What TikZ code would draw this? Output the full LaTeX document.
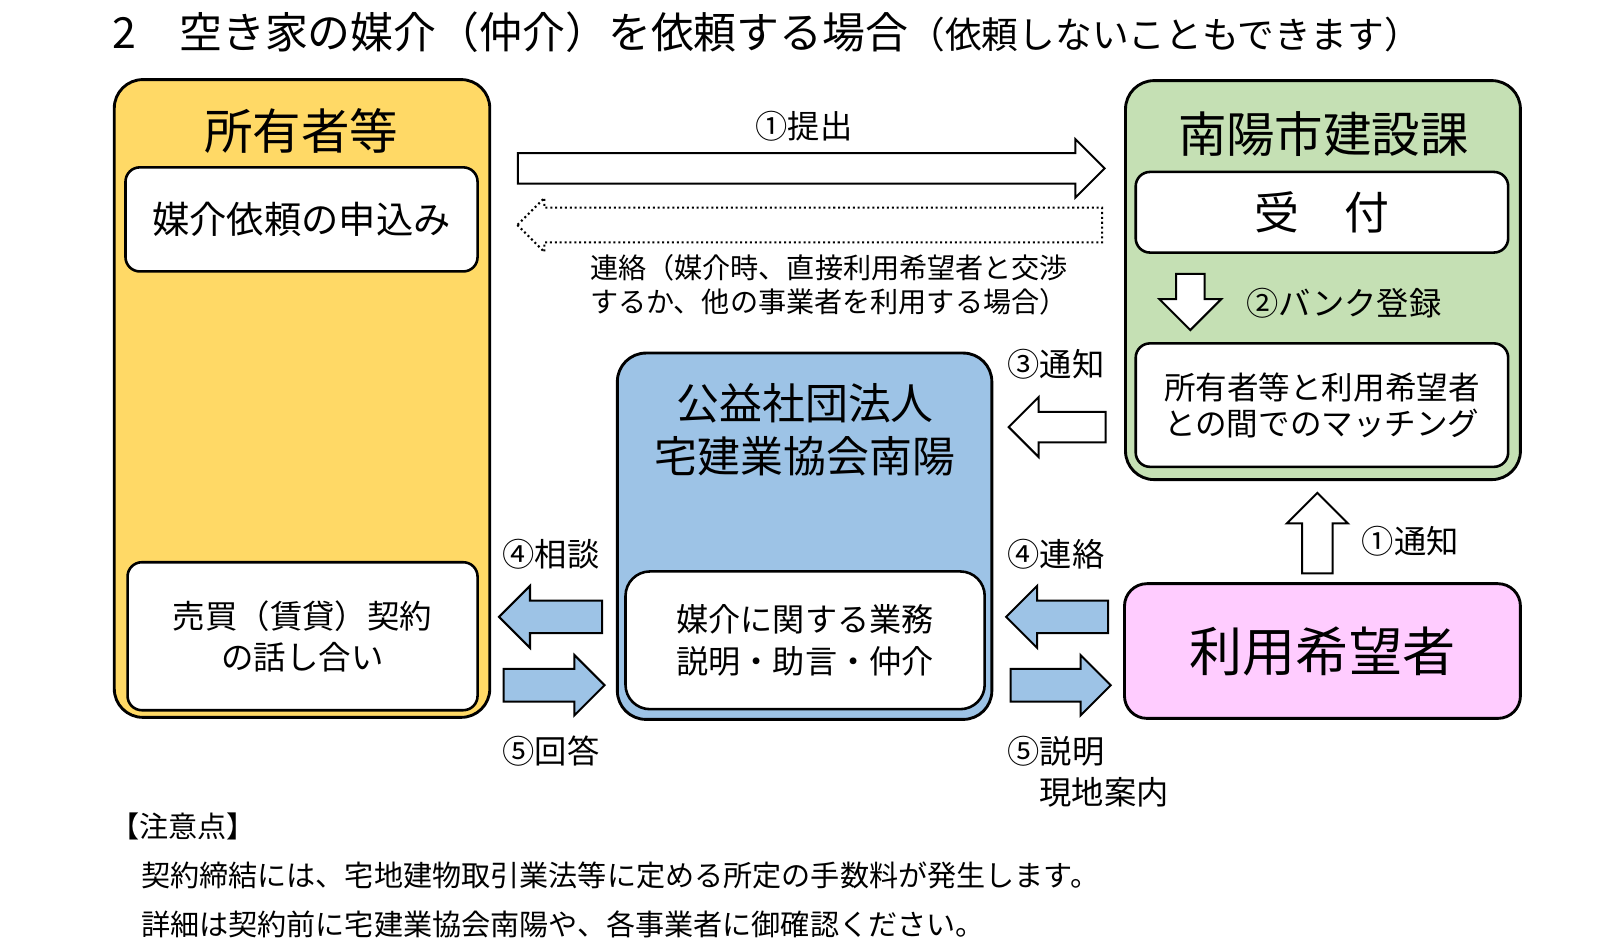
\documentclass[tikz,border=0pt]{standalone}
\usepackage{fontspec}
\setmainfont{Noto Sans CJK JP}
\usetikzlibrary{shapes.arrows}
\definecolor{ownerfill}{HTML}{FFD966}
\definecolor{cityfill}{HTML}{C5E0B4}
\definecolor{assocfill}{HTML}{9DC3E6}
\definecolor{userfill}{HTML}{FFCCFF}
\newcommand{\fsz}[2]{\fontsize{#1}{#2}\selectfont}
\tikzset{
  panel/.style={draw, line width=2pt, rounded corners=7mm, inner sep=0pt},
  card/.style={draw, fill=white, line width=1.8pt, rounded corners=3.5mm, align=center, inner sep=0pt},
  head/.style={inner sep=0pt, font=\fsz{33.8}{40}},
  tag/.style={inner sep=0pt, font=\fsz{22.5}{28.4}},
  note/.style={inner sep=0pt, anchor=west, font=\fsz{20.3}{24}},
  fatarrow/.style={single arrow, draw, line width=1.4pt, inner xsep=0pt, outer sep=0pt, single arrow tip angle=90},
  bluearrow/.style={fatarrow, fill=assocfill},
  whitearrow/.style={fatarrow, fill=white}
}

\begin{document}
\begin{tikzpicture}[x=0.25mm, y=-0.25mm]
  \path[use as bounding box] (0,0) rectangle (1568,932);

  \node[inner sep=0pt, anchor=west, font=\fsz{29.9}{36}] (title) at (110,32) {2　空き家の媒介（仲介）を依頼する場合{\fsz{25.6}{30}（依頼しないこともできます）}};

  % owner side
  \node[panel, fill=ownerfill, minimum width=92mm, minimum height=156.25mm] (owner) at (296,390.5) {};
  \node[head] (ownerhead) at (295,128) {所有者等};
  \node[card, minimum width=86.25mm, minimum height=25.5mm, font=\fsz{26}{32}] (apply) at (295.5,215) {媒介依頼の申込み};
  \node[card, minimum width=85.75mm, minimum height=36.25mm, font=\fsz{22.6}{28.4}] (deal) at (296.5,623.5) {売買（賃貸）契約\\の話し合い};

  % city office
  \node[panel, fill=cityfill, minimum width=96.75mm, minimum height=97.75mm] (city) at (1296.5,274.5) {};
  \node[head] (cityhead) at (1297,131) {南陽市建設課};
  \node[card, minimum width=91.25mm, minimum height=19.75mm, font=\fsz{31.3}{36}] (accept) at (1295.5,208) {受　付};
  \node[card, align=left, minimum width=91.25mm, minimum height=30.25mm, font=\fsz{22}{25}] (match) at (1295.5,397) {所有者等と利用希望者\\との間でのマッチング};

  % association
  \node[panel, fill=assocfill, minimum width=91.75mm, minimum height=89.75mm] (assoc) at (788.5,525.5) {};
  \node[inner sep=0pt, align=center, font=\fsz{29.9}{37}] (assochead) at (789,421) {公益社団法人\\宅建業協会南陽};
  \node[card, rounded corners=6mm, minimum width=88mm, minimum height=33.75mm, font=\fsz{22.4}{29}] (duty) at (789,627.5) {媒介に関する業務\\説明・助言・仲介};

  % user
  \node[panel, fill=userfill, rounded corners=5.5mm, minimum width=97mm, minimum height=33mm, font=\fsz{37}{44}] (user) at (1296,638) {利用希望者};

  % block arrows
  \node[whitearrow, minimum height=143.75mm, inner ysep=3.5mm, single arrow head extend=3.4mm] (submit) at (787.5,165) {};
  \node[whitearrow, dotted, rotate=180, minimum height=143.25mm, inner ysep=4mm, single arrow head extend=2.4mm] (contact) at (802,220.5) {};
  \node[whitearrow, rotate=-90, minimum height=13.75mm, inner ysep=3.25mm, single arrow head extend=4.1mm] (bank) at (1166.5,289) {};
  \node[whitearrow, rotate=180, minimum height=23.75mm, inner ysep=3.5mm, single arrow head extend=3.6mm] (notify) at (1043.5,418.5) {};
  \node[whitearrow, rotate=90, minimum height=19.75mm, inner ysep=3.5mm, single arrow head extend=3.75mm] (notifyup) at (1291,530) {};
  \node[bluearrow, rotate=180, minimum height=25.25mm, inner ysep=3.75mm, single arrow head extend=3.6mm] (consult) at (547.5,604.5) {};
  \node[bluearrow, minimum height=24.75mm, inner ysep=3.75mm, single arrow head extend=3.4mm] (reply) at (535,671.5) {};
  \node[bluearrow, rotate=180, minimum height=25mm, inner ysep=3.75mm, single arrow head extend=3.6mm] (liaise) at (1044,604.5) {};
  \node[bluearrow, minimum height=24.5mm, inner ysep=3.75mm, single arrow head extend=3.4mm] (explain) at (1031.5,671.5) {};

  % arrow labels
  \node[tag] (submitlbl) at (788,124) {①提出};
  \node[inner sep=0pt, anchor=west, align=left, font=\fsz{19.6}{24}] (contactlbl) at (578,279) {連絡（媒介時、直接利用希望者と交渉\\するか、他の事業者を利用する場合）};
  \node[tag] (banklbl) at (1317,297) {②バンク登録};
  \node[tag] (notifylbl) at (1035,357) {③通知};
  \node[tag] (notifyuplbl) at (1382,530) {①通知};
  \node[tag] (consultlbl) at (540,543) {④相談};
  \node[tag] (replylbl) at (540,736) {⑤回答};
  \node[tag] (liaiselbl) at (1035,543) {④連絡};
  \node[tag] (explainlbl) at (1035,736) {⑤説明};
  \node[tag] (sitelbl) at (1082,776) {現地案内};

  % notes
  \node[note] (notehead) at (108,810) {【注意点】};
  \node[note] (note1) at (138,858) {契約締結には、宅地建物取引業法等に定める所定の手数料が発生します。};
  \node[note] (note2) at (138,906) {詳細は契約前に宅建業協会南陽や、各事業者に御確認ください。};
\end{tikzpicture}
\end{document}
